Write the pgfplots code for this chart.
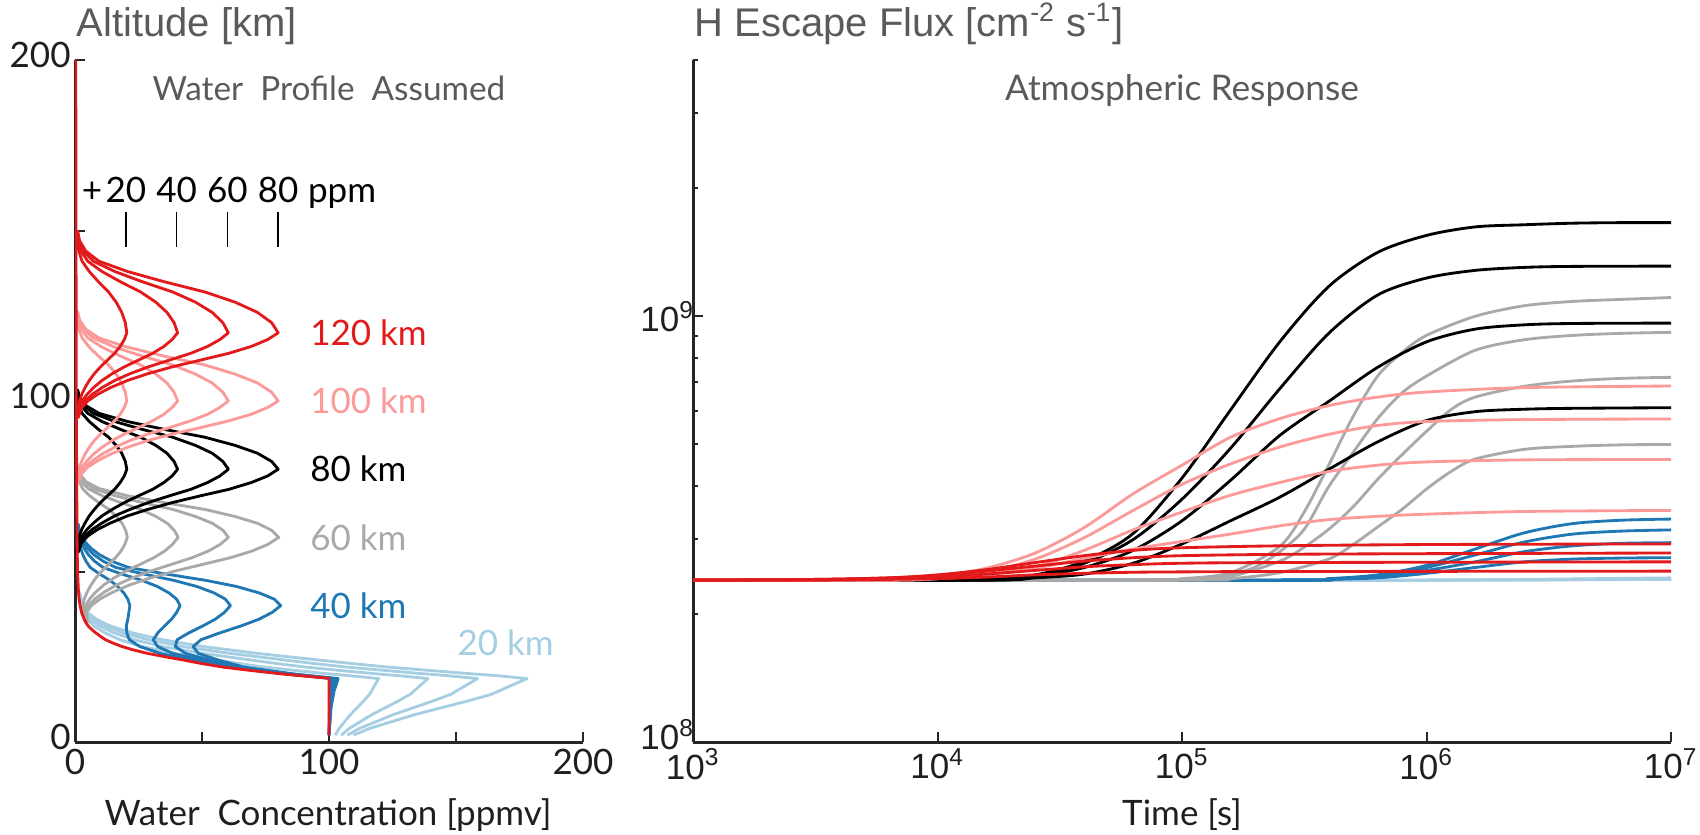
\documentclass[border=0pt]{standalone}
\usepackage{fontspec}
\setmainfont{Lato}
\newfontfamily\helv{Liberation Sans}
\usepackage{pgfplots}
\usepackage{pgfplotstable}
\pgfplotsset{compat=1.18}

\definecolor{cRed}{HTML}{E31A1C}
\definecolor{cPink}{HTML}{FB9A99}
\definecolor{cGray}{HTML}{A9A9A9}
\definecolor{cBlue}{HTML}{1F78B4}
\definecolor{cLBlue}{HTML}{A6CEE3}
\definecolor{cTitle}{HTML}{5A5A5A}
\definecolor{cAxis}{HTML}{262626}

\newcommand\annfont{\fontsize{10.5}{12}\selectfont}

% water profiles: altitude (km) and concentration (ppmv) for +20,+40,+60,+80 ppm
% y1 = 120 km case, y2 = 100 km case, y3 = 80 km case
\pgfplotstableread{
y1 y2 y3 a b c d
95 75.8 55.5 0.74 0.88 1.02 1.16
98 78.7 58.4 1.1 1.6 2.1 2.6
100 80.6 60.4 1.7 2.8 3.9 5.0
102 82.5 62.4 2.7 4.8 6.9 9.0
104 84.5 64.3 4.0 7.4 10.8 14.2
106 86.4 66.3 5.6 10.6 15.6 20.6
108 88.4 68.2 7.6 14.6 21.6 28.6
110 90.3 70.2 10.0 19.4 28.8 38.2
112 92.2 72.2 12.8 25.0 37.2 49.4
114 94.2 74.1 15.6 30.6 45.6 60.6
116 96.1 76.1 17.8 35.0 52.2 69.4
118 98.1 78.0 19.4 38.2 57.0 75.8
120 100 80 20.4 40.4 60.4 80.0
123 102.6 82.3 19.8 39.0 58.2 77.4
126 105.3 84.7 18.4 36.2 54.0 71.8
129 107.9 87.0 16.2 31.8 47.4 63.0
132 110.6 89.4 13.2 25.8 38.4 51.0
135 113.2 91.7 9.2 17.8 26.4 35.0
138 115.8 94.0 5.6 10.6 15.6 20.6
141 118.5 96.4 2.8 5.0 7.2 9.4
144 121.1 98.7 1.5 2.4 3.3 4.2
147 123.8 101.1 0.9 1.2 1.5 1.8
150 126.4 103.4 0.7 0.8 0.9 1.0
}\tblHigh

% 60 km case
\pgfplotstableread{
y a b c d
35 4.44 4.58 4.72 4.86
38 3.1 3.6 4.1 4.6
40 3.1 4.2 5.3 6.4
42 3.7 5.8 7.9 10.0
44 4.8 8.2 11.6 15.0
46 6.25 11.25 16.25 21.25
48 8.1 15.1 22.1 29.1
50 10.4 19.8 29.2 38.6
52 13.15 25.35 37.55 49.75
54 15.9 30.9 45.9 60.9
56 18.1 35.3 52.5 69.7
58 19.65 38.45 57.25 76.05
60 20.6 40.6 60.4 80.2
62 20.0 39.2 58.4 77.6
64.1 18.6 36.4 54.2 72.0
66.1 16.4 32.0 47.6 63.2
68.2 13.4 26.0 38.6 51.2
70.2 9.4 18.0 26.6 35.2
72.2 5.8 10.8 15.8 20.8
74.3 3.0 5.2 7.4 9.6
76.3 1.7 2.6 3.5 4.4
78.4 1.1 1.4 1.7 2.0
80.4 0.9 1.0 1.1 1.2
}\tblSixty

% 40 km case
\pgfplotstableread{
y a b c d
2 100 100 100 100
10 100.2 100.4 100.6 100.8
15 100.5 101 101.5 102
18.6 100.9 101.8 102.7 103.6
19.5 89.0 90.0 91.0 92.0
20 82.2 83.4 84.6 85.8
22 60.1 62.2 64.3 66.4
24 46.4 49.8 53.2 56.6
26 33.5 38.5 43.5 48.5
28 25.5 32.5 39.5 46.5
30 21.4 30.8 40.2 49.6
32 20.4 32.6 44.8 57.0
34 20.2 35.2 50.2 65.2
36 20.8 38.0 55.2 72.4
38 21.2 40.0 58.8 77.6
40 21.6 41.4 61.2 81.0
41.9 20.8 40.0 59.2 78.4
43.7 19.25 37.05 54.85 72.65
45.6 16.85 32.45 48.05 63.65
47.4 13.75 26.35 38.95 51.55
49.3 9.65 18.25 26.85 35.45
51.2 6 11 16 21
53.0 4.35 7.75 11.15 14.55
54.9 3.1 5.3 7.5 9.7
56.7 2.28 3.68 5.08 6.48
58.6 1.65 2.45 3.25 4.05
61 1.12 1.42 1.72 2.02
64 0.9 1.0 1.1 1.2
}\tblForty

% 20 km case
\pgfplotstableread{
y a b c d
2 102.4 104.8 107.2 109.6
4 104 108 112 116
6 106.2 112.4 118.6 124.8
8 108.4 116.8 125.2 133.6
10 111 122 133 144
12 113.6 127.2 140.8 154.4
14 116 132 148 164
16 117.5 135 152.5 170
18.6 119.5 139 158.5 178
19.5 107.4 126.8 146.2 165.6
20 99.8 118.6 137.4 156.2
21 86.6 104.2 121.8 139.4
22 74.2 90.4 106.6 122.8
23 64.8 79.6 94.4 109.2
24 56.4 69.8 83.2 96.6
26 39.3 50.1 60.9 71.7
28 26.5 34.5 42.5 50.5
30 17.6 23.2 28.8 34.4
32 11.8 15.4 19.0 22.6
34 7.4 9.6 11.8 14.0
36 4.8 6.0 7.2 8.4
38 3.2 3.8 4.4 5.0
40 2.3 2.6 2.9 3.2
44 1.48 1.56 1.64 1.72
}\tblTwenty

\begin{document}
\begin{tikzpicture}

\pgfplotsset{
  panel/.style={
    scale only axis, anchor=south west,
    axis x line=bottom, axis y line=left,
    axis line style={-, line width=0.9pt, cAxis},
    tick align=inside,
    major tick length=3pt, minor tick length=1.6pt,
    tick style={line width=0.6pt, cAxis},
    enlargelimits=false,
    xticklabel style={yshift=1.5pt},
    every axis plot/.append style={line width=0.85pt, line join=round},
  }
}

\begin{axis}[panel,
  at={(22.5pt,27.6pt)}, width=152.4pt, height=204.6pt,
  xmin=0, xmax=200, ymin=0, ymax=200,
  xtick={0,50,100,150,200}, xticklabels={0,,100,,200},
  ytick={0,50,100,150,200}, yticklabels={0,,100,,200},
  ticklabel style={font=\fontsize{10.5}{12}\selectfont, text=black!88},
  yticklabel style={xshift=2.2pt, yshift=1.6pt},
]
\addplot[cLBlue] table[x=a,y=y]{\tblTwenty};
\addplot[cLBlue] table[x=b,y=y]{\tblTwenty};
\addplot[cLBlue] table[x=c,y=y]{\tblTwenty};
\addplot[cLBlue] table[x=d,y=y]{\tblTwenty};
\addplot[cBlue] table[x=a,y=y]{\tblForty};
\addplot[cBlue] table[x=b,y=y]{\tblForty};
\addplot[cBlue] table[x=c,y=y]{\tblForty};
\addplot[cBlue] table[x=d,y=y]{\tblForty};
\addplot[cGray] table[x=a,y=y]{\tblSixty};
\addplot[cGray] table[x=b,y=y]{\tblSixty};
\addplot[cGray] table[x=c,y=y]{\tblSixty};
\addplot[cGray] table[x=d,y=y]{\tblSixty};
\addplot[black] table[x=a,y=y3]{\tblHigh};
\addplot[black] table[x=b,y=y3]{\tblHigh};
\addplot[black] table[x=c,y=y3]{\tblHigh};
\addplot[black] table[x=d,y=y3]{\tblHigh};
\addplot[cPink] table[x=a,y=y2]{\tblHigh};
\addplot[cPink] table[x=b,y=y2]{\tblHigh};
\addplot[cPink] table[x=c,y=y2]{\tblHigh};
\addplot[cPink] table[x=d,y=y2]{\tblHigh};
\addplot[cRed] table[x=a,y=y1]{\tblHigh};
\addplot[cRed] table[x=b,y=y1]{\tblHigh};
\addplot[cRed] table[x=c,y=y1]{\tblHigh};
\addplot[cRed] table[x=d,y=y1]{\tblHigh};
% background profile
\addplot[cRed] coordinates {(100,2) (100,18.7) (88,19.5) (81,20) (69,21) (58,22) (50,23)
  (43,24) (35.5,25) (28.5,26) (23,27) (18.5,28) (15,29) (12,30) (10,31) (8.2,32) (6.6,33)
  (5.2,34) (4.3,35) (3.6,36) (2.6,38) (2.0,40) (1.6,42) (1.3,45) (1.0,50) (0.8,60)
  (0.65,80) (0.5,100) (0.4,150) (0.3,200)};

\node[anchor=west, text=cRed, font=\annfont] at (axis cs:88,120) {120 km};
\node[anchor=west, text=cPink, font=\annfont] at (axis cs:88,100) {100 km};
\node[anchor=west, text=black, font=\annfont] at (axis cs:88,80) {80 km};
\node[anchor=west, text=cGray, font=\annfont] at (axis cs:88,60) {60 km};
\node[anchor=west, text=cBlue, font=\annfont] at (axis cs:88,40) {40 km};
\node[anchor=west, text=cLBlue, font=\annfont] at (axis cs:146,29) {20 km};

\node[anchor=base, font=\annfont, inner sep=0pt] at (axis cs:6.7,158.3) {+};
\node[anchor=base, font=\annfont, inner sep=0pt] at (axis cs:20,158.3) {20};
\node[anchor=base, font=\annfont, inner sep=0pt] at (axis cs:40,158.3) {40};
\node[anchor=base, font=\annfont, inner sep=0pt] at (axis cs:60,158.3) {60};
\node[anchor=base, font=\annfont, inner sep=0pt] at (axis cs:80,158.3) {80};
\node[anchor=base west, font=\annfont, inner sep=0pt] at (axis cs:91.5,158.3) {ppm};
\draw[line width=0.5pt] (axis cs:20,145.2) -- (axis cs:20,155.4);
\draw[line width=0.5pt] (axis cs:40,145.2) -- (axis cs:40,155.4);
\draw[line width=0.5pt] (axis cs:60,145.2) -- (axis cs:60,155.4);
\draw[line width=0.5pt] (axis cs:80,145.2) -- (axis cs:80,155.4);
\end{axis}

% flux in units of 1e8 cm^-2 s^-1
\begin{axis}[panel,
  at={(207.9pt,27.6pt)}, width=293.4pt, height=204.6pt,
  xmode=log, ymode=log,
  xmin=1e3, xmax=1e7, ymin=1, ymax=40,
  xtick={1e3,1e4,1e5,1e6,1e7},
  xticklabels={{10\textsuperscript{3}},{10\textsuperscript{4}},{10\textsuperscript{5}},{10\textsuperscript{6}},{10\textsuperscript{7}}},
  xminorticks=false,
  ytick={1,10}, yticklabels={{\raisebox{4.6pt}{10\textsuperscript{8}}},{10\textsuperscript{9}}},
  minor ytick={2,3,4,5,6,7,8,9,20,30,40},
  ticklabel style={font=\helv\fontsize{10.5}{12}\selectfont, text=black!88},
  yticklabel style={xshift=4pt},
]
% 20 km
\addplot[cLBlue] coordinates {(1e3,2.40) (1e6,2.40) (2.51e6,2.41) (1e7,2.43)};
\addplot[cLBlue] coordinates {(1e3,2.40) (1e6,2.40) (2.51e6,2.405) (1e7,2.42)};
\addplot[cLBlue] coordinates {(1e3,2.40) (1e6,2.40) (2.51e6,2.403) (1e7,2.415)};
\addplot[cLBlue] coordinates {(1e3,2.40) (1e6,2.40) (2.51e6,2.402) (1e7,2.41)};
% 40 km
\addplot[cBlue, smooth] coordinates {(1e3,2.40) (2.51e5,2.40) (3.98e5,2.42) (6.31e5,2.47) (1e6,2.60) (1.58e6,2.84) (2.51e6,3.10) (3.98e6,3.26) (6.31e6,3.32) (1e7,3.34)};
\addplot[cBlue, smooth] coordinates {(1e3,2.40) (2.51e5,2.40) (3.98e5,2.415) (6.31e5,2.46) (1e6,2.57) (1.58e6,2.75) (2.51e6,2.95) (3.98e6,3.08) (6.31e6,3.13) (1e7,3.15)};
\addplot[cBlue, smooth] coordinates {(1e3,2.40) (2.51e5,2.40) (3.98e5,2.41) (6.31e5,2.45) (1e6,2.53) (1.58e6,2.65) (2.51e6,2.80) (3.98e6,2.89) (6.31e6,2.93) (1e7,2.94)};
\addplot[cBlue, smooth] coordinates {(1e3,2.40) (2.51e5,2.40) (3.98e5,2.41) (6.31e5,2.43) (1e6,2.49) (1.58e6,2.57) (2.51e6,2.65) (3.98e6,2.69) (6.31e6,2.705) (1e7,2.71)};
% 60 km
\addplot[cGray, smooth] coordinates {(1e3,2.40) (6.31e4,2.40) (1e5,2.42) (1.58e5,2.50) (2.51e5,2.88) (3.16e5,3.47) (3.98e5,4.47) (5.01e5,5.82) (6.31e5,7.24) (7.94e5,8.22) (1e6,9.02) (1.58e6,10.0) (2.51e6,10.59) (3.98e6,10.84) (6.31e6,10.96) (1e7,11.07)};
\addplot[cGray, smooth] coordinates {(1e3,2.40) (6.31e4,2.40) (1e5,2.41) (1.58e5,2.48) (2e5,2.58) (2.51e5,2.80) (3.16e5,3.16) (3.98e5,3.98) (5.01e5,4.79) (6.31e5,5.75) (7.94e5,6.61) (1e6,7.24) (1.58e6,8.32) (2.51e6,8.81) (3.98e6,9.02) (6.31e6,9.12) (1e7,9.17)};
\addplot[cGray, smooth] coordinates {(1e3,2.40) (6.31e4,2.40) (1e5,2.41) (1.58e5,2.45) (2.51e5,2.66) (3.16e5,2.87) (3.98e5,3.16) (5.01e5,3.57) (6.31e5,4.14) (7.94e5,4.73) (1e6,5.37) (1.26e6,6.04) (1.58e6,6.46) (2.51e6,6.85) (3.98e6,7.05) (6.31e6,7.15) (1e7,7.19)};
\addplot[cGray, smooth] coordinates {(1e3,2.40) (1e5,2.40) (1.58e5,2.42) (2.51e5,2.50) (3.98e5,2.69) (5.01e5,2.91) (6.31e5,3.20) (7.94e5,3.52) (1e6,3.93) (1.26e6,4.32) (1.58e6,4.62) (2.51e6,4.87) (3.98e6,4.95) (6.31e6,4.99) (1e7,5.00)};
% 80 km
\addplot[black, smooth] coordinates {(1e3,2.40) (1e4,2.40) (1.58e4,2.43) (2.51e4,2.47) (3.98e4,2.66) (6.31e4,3.09) (1e5,4.17) (1.58e5,6.03) (2.51e5,8.71) (3.98e5,11.75) (6.31e5,14.13) (1e6,15.49) (1.58e6,16.22) (2.51e6,16.41) (3.98e6,16.55) (6.31e6,16.6) (1e7,16.6)};
\addplot[black, smooth] coordinates {(1e3,2.40) (1e4,2.40) (1.58e4,2.42) (2.51e4,2.46) (3.98e4,2.63) (6.31e4,2.99) (1e5,3.72) (1.58e5,4.90) (2.51e5,6.76) (3.98e5,9.12) (6.31e5,11.22) (1e6,12.30) (1.58e6,12.82) (2.51e6,13.03) (3.98e6,13.1) (1e7,13.12)};
\addplot[black, smooth] coordinates {(1e3,2.40) (1.58e4,2.40) (2.51e4,2.45) (3.98e4,2.57) (6.31e4,2.82) (1e5,3.31) (1.58e5,4.12) (2.51e5,5.25) (3.98e5,6.31) (6.31e5,7.59) (1e6,8.71) (1.58e6,9.33) (2.51e6,9.55) (3.98e6,9.62) (1e7,9.64)};
\addplot[black, smooth] coordinates {(1e3,2.40) (1.58e4,2.40) (2.51e4,2.43) (3.98e4,2.48) (6.31e4,2.63) (1e5,2.92) (1.58e5,3.31) (2.51e5,3.76) (3.98e5,4.37) (6.31e5,5.07) (1e6,5.69) (1.58e6,5.97) (2.51e6,6.05) (3.98e6,6.08) (1e7,6.10)};
% 100 km
\addplot[cPink, smooth] coordinates {(1e3,2.40) (6.31e3,2.41) (1e4,2.45) (1.58e4,2.56) (2.51e4,2.78) (3.98e4,3.19) (6.31e4,3.83) (1e5,4.47) (1.58e5,5.20) (2.51e5,5.75) (3.98e5,6.17) (6.31e5,6.46) (1e6,6.64) (2.51e6,6.80) (1e7,6.86)};
\addplot[cPink, smooth] coordinates {(1e3,2.40) (6.31e3,2.41) (1e4,2.43) (1.58e4,2.51) (2.51e4,2.69) (3.98e4,3.02) (6.31e4,3.50) (1e5,4.03) (1.58e5,4.50) (2.51e5,4.93) (3.98e5,5.28) (6.31e5,5.54) (1e6,5.66) (2.51e6,5.72) (1e7,5.74)};
\addplot[cPink, smooth] coordinates {(1e3,2.40) (6.31e3,2.40) (1e4,2.42) (1.58e4,2.48) (2.51e4,2.58) (3.98e4,2.82) (6.31e4,3.15) (1e5,3.47) (1.58e5,3.80) (2.51e5,4.07) (3.98e5,4.32) (6.31e5,4.47) (1e6,4.55) (2.51e6,4.60) (1e7,4.61)};
\addplot[cPink, smooth] coordinates {(1e3,2.40) (6.31e3,2.40) (1e4,2.42) (1.58e4,2.47) (2.51e4,2.56) (3.98e4,2.70) (6.31e4,2.84) (1e5,2.96) (1.58e5,3.08) (2.51e5,3.22) (3.98e5,3.33) (6.31e5,3.39) (1e6,3.43) (2.51e6,3.48) (1e7,3.50)};
% 120 km
\addplot[cRed, smooth] coordinates {(1e3,2.40) (3.16e3,2.41) (6.31e3,2.43) (1e4,2.47) (1.58e4,2.54) (2.51e4,2.64) (3.98e4,2.74) (6.31e4,2.82) (1e5,2.86) (2.51e5,2.89) (1e6,2.91) (1e7,2.92)};
\addplot[cRed, smooth] coordinates {(1e3,2.40) (3.16e3,2.41) (6.31e3,2.43) (1e4,2.46) (1.58e4,2.52) (2.51e4,2.59) (3.98e4,2.66) (6.31e4,2.71) (1e5,2.74) (2.51e5,2.76) (1e6,2.77) (1e7,2.78)};
\addplot[cRed, smooth] coordinates {(1e3,2.40) (3.16e3,2.405) (6.31e3,2.42) (1e4,2.44) (1.58e4,2.48) (2.51e4,2.53) (3.98e4,2.58) (6.31e4,2.61) (1e5,2.63) (2.51e5,2.64) (1e7,2.65)};
\addplot[cRed, smooth] coordinates {(1e3,2.40) (3.16e3,2.40) (6.31e3,2.41) (1e4,2.42) (1.58e4,2.44) (2.51e4,2.47) (3.98e4,2.49) (6.31e4,2.505) (1e5,2.51) (2.51e5,2.515) (1e7,2.52)};
\end{axis}

\node[anchor=base west, inner sep=0pt, font=\helv\fontsize{12}{14}\selectfont, text=cTitle] at (22.8pt,239.4pt) {Altitude [km]};
\node[anchor=base west, inner sep=0pt, font=\helv\fontsize{12}{14}\selectfont, text=cTitle] at (208.2pt,239.4pt) {H Escape Flux [cm\textsuperscript{-2} s\textsuperscript{-1}]};
\node[anchor=base, inner sep=0pt, font=\fontsize{10}{12}\selectfont, text=cTitle] at (98.7pt,220.2pt) {Water\ \ Profile\ \ Assumed};
\node[anchor=base, inner sep=0pt, font=\fontsize{10.6}{12}\selectfont, text=cTitle] at (354.6pt,220.2pt) {Atmospheric Response};
\node[anchor=base, inner sep=0pt, font=\fontsize{10.5}{12}\selectfont, text=black!88] at (98.4pt,2.6pt) {Water\ \ Concentration [ppmv]};
\node[anchor=base, inner sep=0pt, font=\fontsize{10.5}{12}\selectfont, text=black!88] at (354.6pt,2.6pt) {Time [s]};

\pgfresetboundingbox
\path[use as bounding box] (0,0) rectangle (510pt,250.2pt);
\end{tikzpicture}
\end{document}
